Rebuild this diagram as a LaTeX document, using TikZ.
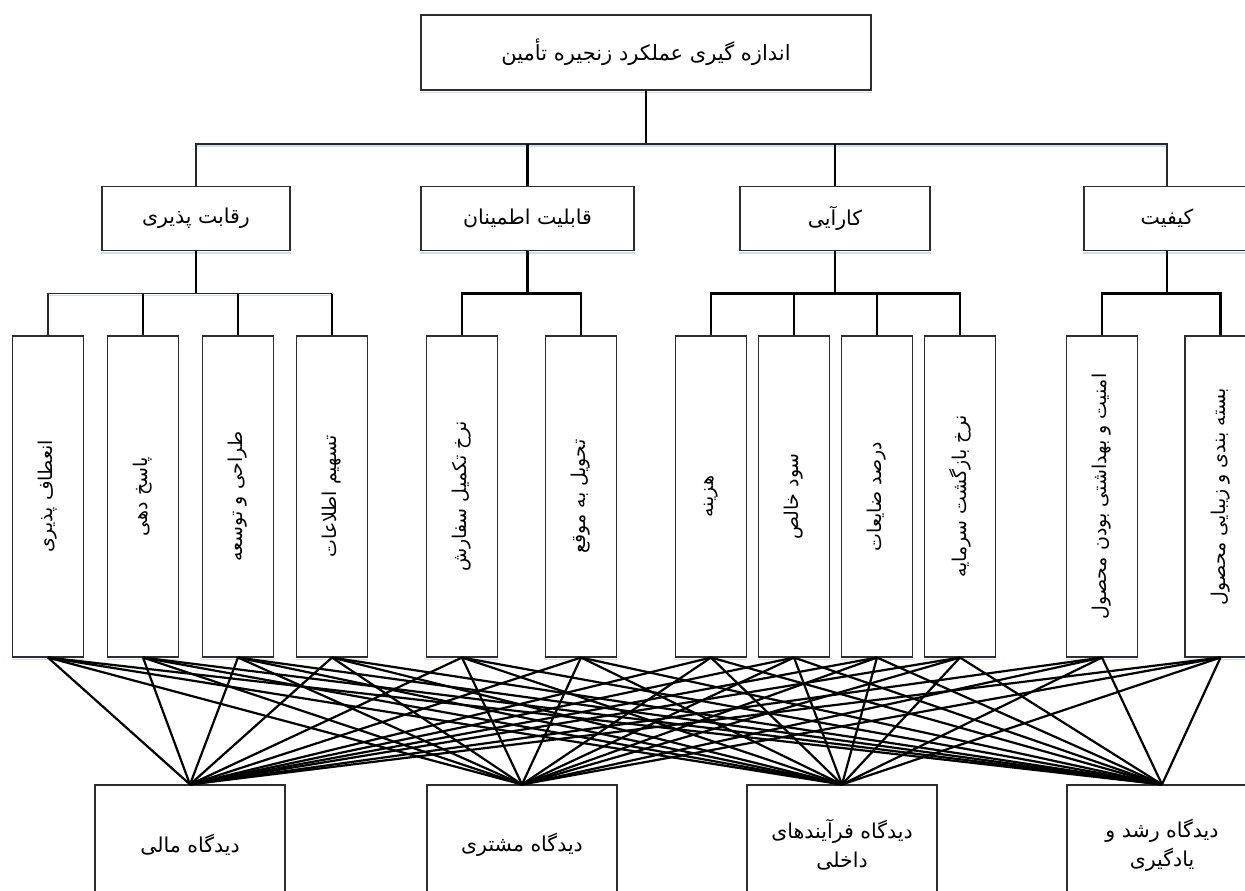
\documentclass[tikz,border=0pt]{standalone}
\usepackage{fontspec}
\newfontfamily\fa[Script=Arabic]{DejaVu Sans}
\TeXXeTstate=1
\tikzset{
  box/.style={draw={rgb,255:red,45;green,45;blue,45}, line width=1.1pt, rectangle, inner sep=0pt, fill=white},
  topbox/.style={box, minimum width=450pt, minimum height=75pt, font=\fa\fontsize{21}{24}\selectfont},
  catbox/.style={box, minimum height=64pt, font=\fa\fontsize{20.5}{24}\selectfont},
  leafbox/.style={box, minimum width=71pt, minimum height=321pt},
  leaftext/.style={rotate=90, font=\fa\fontsize{19}{22}\selectfont},
  persbox/.style={box, minimum width=190pt, minimum height=120pt, align=center, font=\fa\fontsize{20.5}{29}\selectfont},
  thinln/.style={draw={rgb,255:red,40;green,40;blue,40}, line width=1.2pt},
  thickln/.style={draw=black, line width=2.5pt},
  crossln/.style={draw=black, line width=2.2pt},
  glow/.style={draw={rgb,255:red,205;green,222;blue,242}, line width=1.5pt}
}
\begin{document}
\begin{tikzpicture}[x=1pt,y=-1pt]
\useasboundingbox (0,0) rectangle (1245,891);
\clip (0,0) rectangle (1245,891);
\fill[white] (0,0) rectangle (1245,891);

% levels
\coordinate (busA) at (0,144);
\coordinate (busB) at (0,293.5);

% top
\node[topbox] (T) at (646,52.5) {\beginR اندازه گیری عملکرد زنجیره تأمین\endR};

% categories
\node[catbox, minimum width=188pt] (A) at (196,218.5) {\beginR رقابت پذیری\endR};
\node[catbox, minimum width=213pt] (B) at (527.5,218.5) {\beginR قابلیت اطمینان\endR};
\node[catbox, minimum width=190pt] (C) at (835,218.5) {\beginR کارآیی\endR};
\node[catbox, minimum width=166pt] (D) at (1167,218.5) {\beginR کیفیت\endR};

% leaves
\node[leafbox] (l1) at (48,496.5) {};
\node[leafbox] (l2) at (143,496.5) {};
\node[leafbox] (l3) at (238,496.5) {};
\node[leafbox] (l4) at (332,496.5) {};
\node[leafbox] (l5) at (462,496.5) {};
\node[leafbox] (l6) at (581,496.5) {};
\node[leafbox] (l7) at (711,496.5) {};
\node[leafbox] (l8) at (794,496.5) {};
\node[leafbox] (l9) at (877,496.5) {};
\node[leafbox] (l10) at (960,496.5) {};
\node[leafbox] (l11) at (1102,496.5) {};
\node[leafbox] (l12) at (1220.5,496.5) {};

\node[leaftext] (t1) at (l1) {\beginR انعطاف پذیری\endR};
\node[leaftext] (t2) at (l2) {\beginR پاسخ دهی\endR};
\node[leaftext] (t3) at (l3) {\beginR طراحی و توسعه\endR};
\node[leaftext] (t4) at (l4) {\beginR تسهیم اطلاعات\endR};
\node[leaftext] (t5) at (l5) {\beginR نرخ تکمیل سفارش\endR};
\node[leaftext] (t6) at (l6) {\beginR تحویل به موقع\endR};
\node[leaftext] (t7) at (l7) {\beginR هزینه\endR};
\node[leaftext] (t8) at (l8) {\beginR سود خالص\endR};
\node[leaftext] (t9) at (l9) {\beginR درصد ضایعات\endR};
\node[leaftext] (t10) at (l10) {\beginR نرخ بازگشت سرمایه\endR};
\node[leaftext] (t11) at (l11) {\beginR امنیت و بهداشتی بودن محصول\endR};
\node[leaftext] (t12) at (l12) {\beginR بسته بندی و زیبایی محصول\endR};

% perspectives
\node[persbox] (b1) at (190,845) {\beginR دیدگاه مالی\endR};
\node[persbox] (b2) at (522,845) {\beginR دیدگاه مشتری\endR};
\node[persbox] (b3) at (842,845) {\beginR دیدگاه فرآیندهای\endR\\\beginR داخلی\endR};
\node[persbox] (b4) at (1162,845) {\beginR دیدگاه رشد و\endR\\\beginR یادگیری\endR};

% light glow under box bottoms
\foreach \n in {T,A,B,C,D,l1,l2,l3,l4,l5,l6,l7,l8,l9,l10,l11,l12}
  \draw[glow] ([yshift=-1.8pt]\n.south west) -- ([yshift=-1.8pt]\n.south east);
\draw[glow] ([yshift=-1.8pt]A.north |- busA) -- ([yshift=-1.8pt]D.north |- busA);
\draw[glow] ([yshift=-1.8pt]l1.north |- busB) -- ([yshift=-1.8pt]l4.north |- busB);

% tree connectors
\draw[thickln] (T.south) -- (T.south |- busA);
\draw[thinln] (A.north) -- (A.north |- busA) -- (D.north |- busA) -- (D.north);
\draw[thickln] (B.north) -- (B.north |- busA);
\draw[thickln] (C.north) -- (C.north |- busA);

\draw[thickln] (A.south) -- (A.south |- busB);
\draw[thinln] (l1.north) -- (l1.north |- busB) -- (l4.north |- busB);
\draw[thickln] (l2.north) -- (l2.north |- busB);
\draw[thickln] (l3.north) -- (l3.north |- busB);
\draw[thickln] (l4.north) -- (l4.north |- busB);

\draw[thickln] (B.south) -- (B.south |- busB);
\draw[thickln] (l5.north) -- (l5.north |- busB) -- (l6.north |- busB) -- (l6.north);

\draw[thickln] (C.south) -- (C.south |- busB);
\draw[thickln] (l7.north) -- (l7.north |- busB) -- (l10.north |- busB) -- (l10.north);
\draw[thickln] (l8.north) -- (l8.north |- busB);
\draw[thickln] (l9.north) -- (l9.north |- busB);

\draw[thickln] (D.south) -- (D.south |- busB);
\draw[thickln] (l11.north) -- (l11.north |- busB) -- (l12.north |- busB) -- (l12.north);

% full bipartite links
\foreach \l in {l1,l2,l3,l4,l5,l6,l7,l8,l9,l10,l11,l12}
  \foreach \b in {b1,b2,b3,b4}
    \draw[crossln] (\l.south) -- (\b.north);
\end{tikzpicture}
\end{document}
